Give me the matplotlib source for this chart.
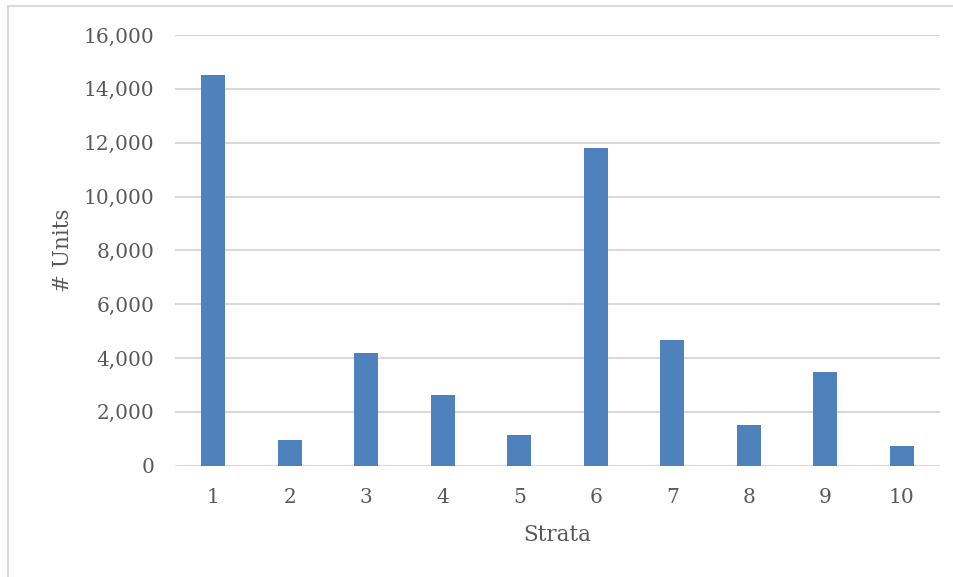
import numpy as np
import matplotlib.pyplot as plt
from matplotlib.patches import Rectangle
from matplotlib.ticker import FuncFormatter

strata = ['1', '2', '3', '4', '5', '6', '7', '8', '9', '10']
units = [14500, 955, 4180, 2630, 1130, 11785, 4675, 1515, 3485, 735]

plt.rcParams['font.family'] = ['DejaVu Serif']

fig = plt.figure(figsize=(9.54, 5.77), dpi=100)
ax = fig.add_axes([175/954, 1-465.7/577, (940-175)/954, (465.7-35)/577])

# moldura cinza do gráfico
fig.patches.append(Rectangle((8/954, -0.1), 1.1, 1-6/577+0.1, transform=fig.transFigure,
                             fill=False, edgecolor='#D9D9D9', linewidth=1.5))

x = np.arange(len(strata))
ax.bar(x, units, width=0.31, color='#4F81BD', zorder=3)

ax.set_xlim(-0.5, len(strata)-0.5)
ax.set_ylim(0, 16000)
ax.set_yticks(np.arange(0, 16001, 2000))
ax.yaxis.set_major_formatter(FuncFormatter(lambda v, p: f'{int(v):,}'))
ax.set_xticks(x)
ax.set_xticklabels(strata)

ax.grid(axis='y', color='#D9D9D9', linewidth=1.5, zorder=0)
for s in ax.spines.values():
    s.set_visible(False)
ax.tick_params(axis='both', length=0, labelsize=14.5, colors='#595959')
ax.tick_params(axis='y', pad=15)
ax.tick_params(axis='x', pad=16)

ax.set_xlabel('Strata', fontsize=15.5, color='#595959', labelpad=12)
ax.set_ylabel('# Units', fontsize=15.5, color='#595959', labelpad=7)

fig.savefig('out.png', dpi=100)
